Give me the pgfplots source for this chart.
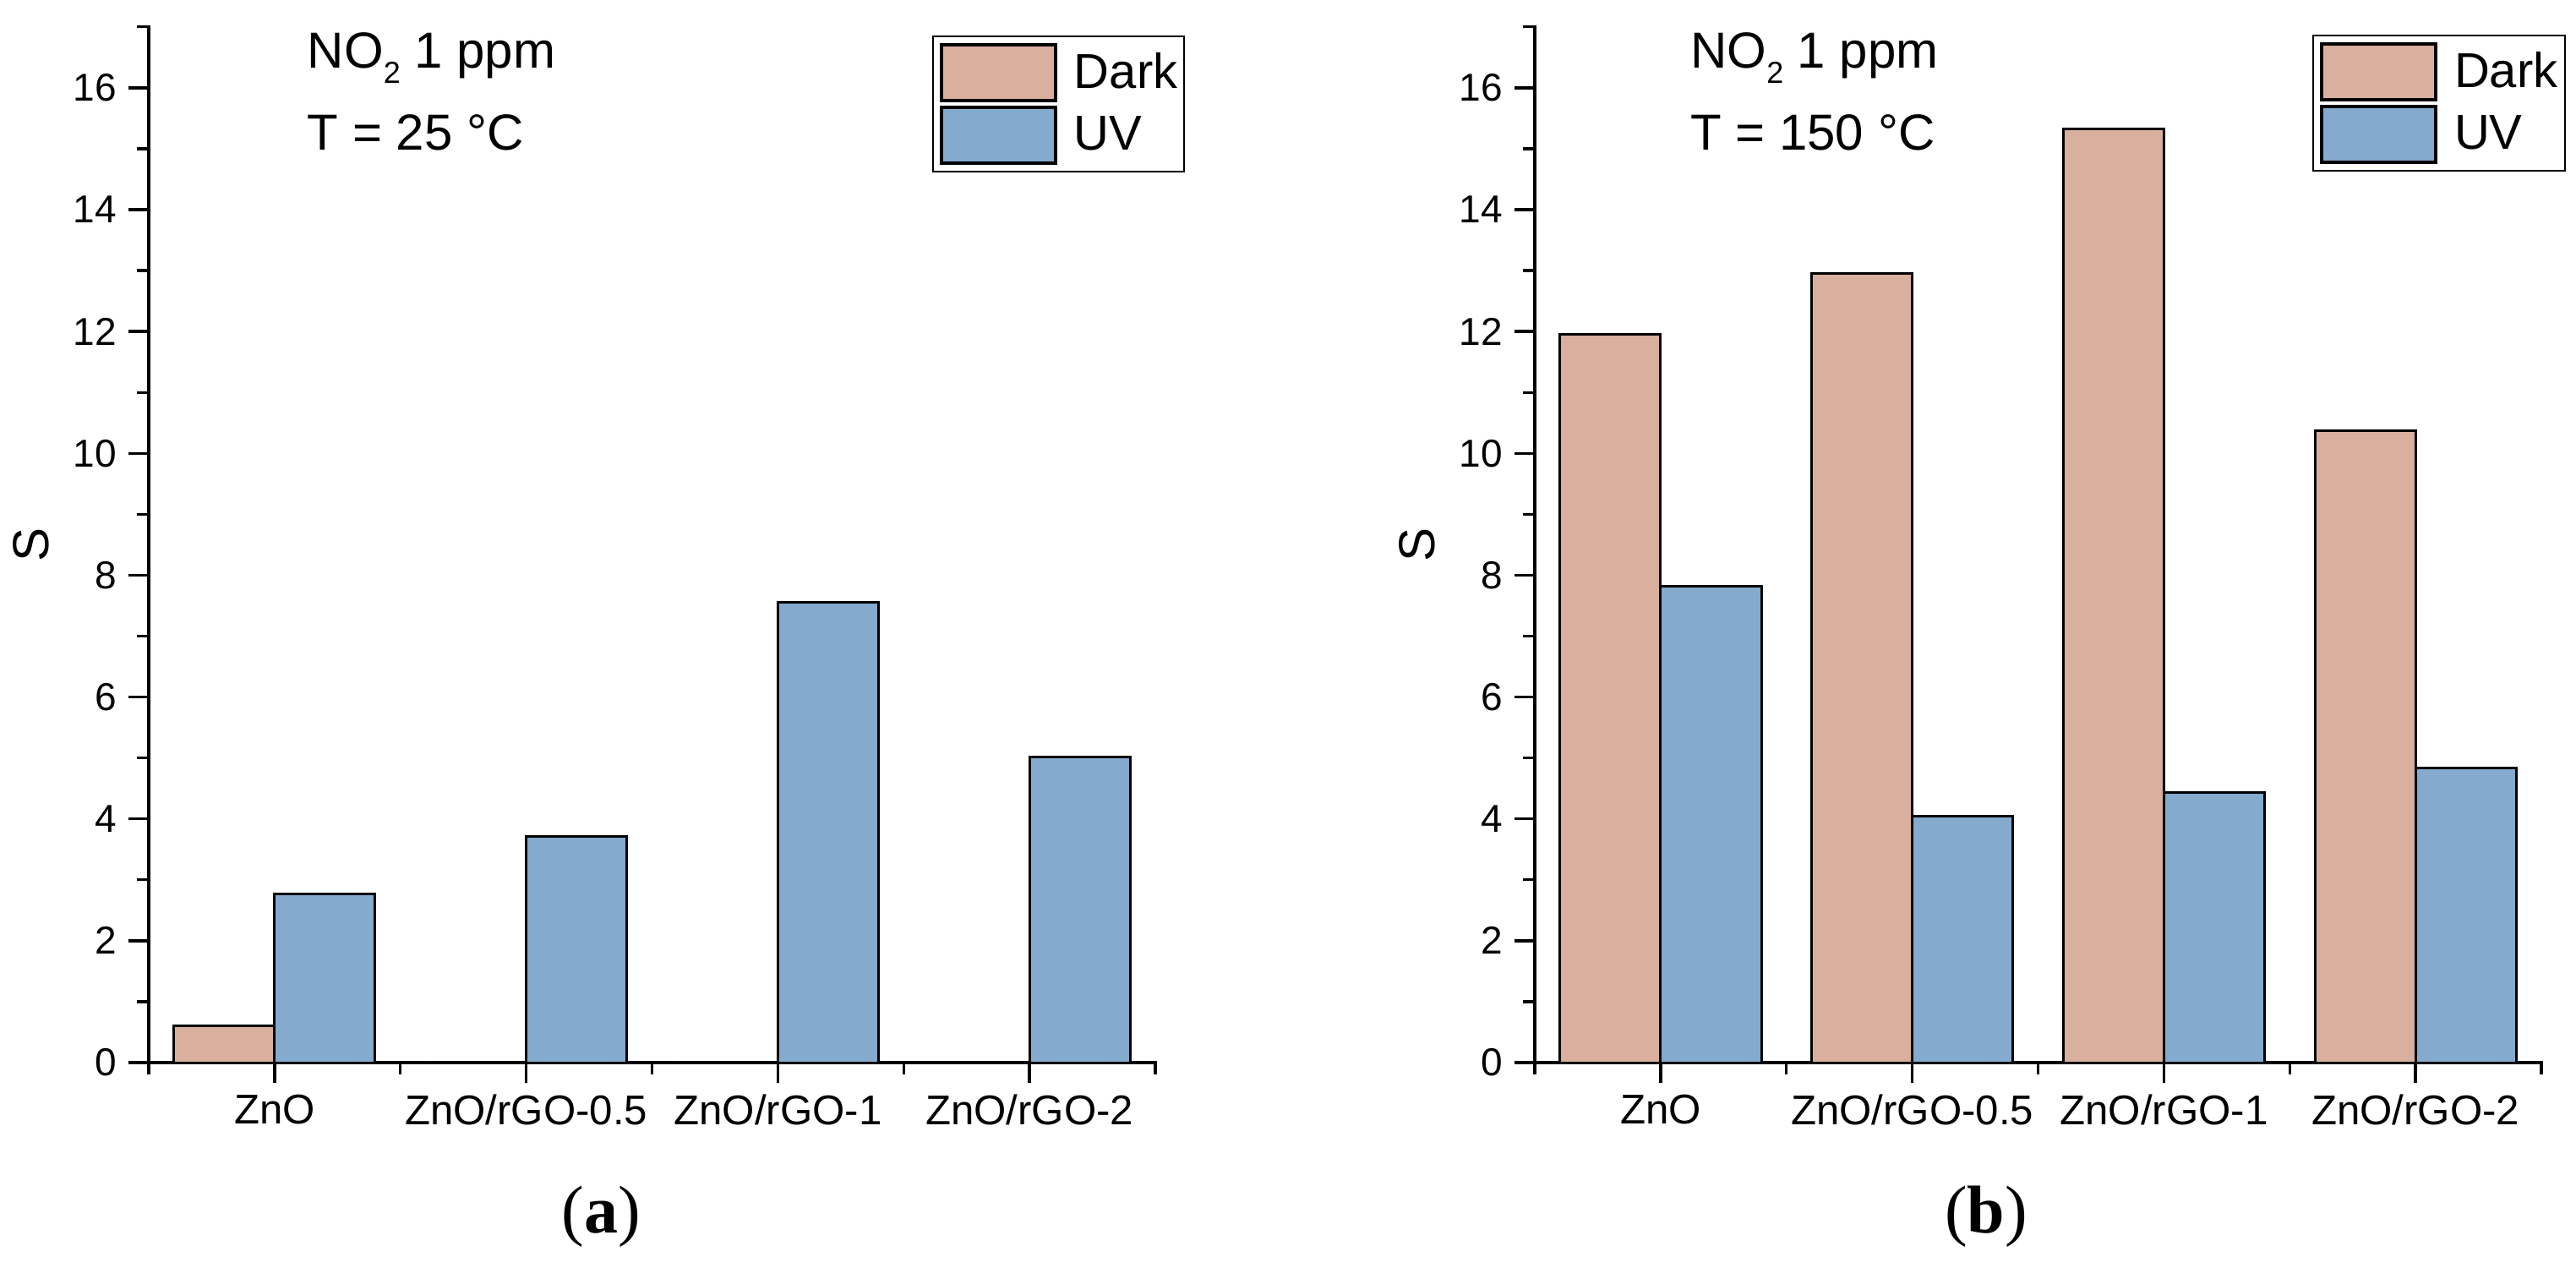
\documentclass[border=0pt]{standalone}
\usepackage{pgfplots}
\pgfplotsset{compat=1.18}
\usepackage{fontspec}
\setmainfont{Liberation Sans}
\newfontfamily\seriffont{Liberation Serif}
\definecolor{darkc}{RGB}{217,175,158}
\definecolor{uvc}{RGB}{132,170,205}
\newcommand{\subtwo}{\raisebox{-4.5pt}{\fontsize{9}{10}\selectfont 2}}

\pgfplotsset{
  panel/.style={
    scale only axis, width=297.75pt, height=306.3pt,
    anchor=south west,
    xmin=0.5, xmax=4.5, ymin=0, ymax=17, enlargelimits=false,
    axis x line*=bottom, axis y line*=left,
    axis line style={line width=0.9pt, line cap=rect},
    xtick={1,2,3,4},
    xticklabels={ZnO,ZnO/rGO-0.5,ZnO/rGO-1,ZnO/rGO-2},
    minor xtick={0.5,1.5,2.5,3.5,4.5},
    ytick={0,2,...,16}, minor ytick={1,3,...,17},
    tick align=outside,
    major tick length=6pt, minor tick length=3.5pt,
    every tick/.style={black, line width=0.85pt},
    /pgf/number format/assume math mode=true,
    yticklabel style={font=\fontsize{11.5}{13}\selectfont},
    xticklabel style={font=\fontsize{12.3}{14}\selectfont},
    ylabel={S},
    ylabel style={font=\fontsize{15}{17}\selectfont, at={(axis description cs:-0.1167,0.5)}, anchor=center},
    legend style={anchor=north west, draw=black, line width=0.5pt,
      inner xsep=2pt, inner ysep=2pt, font=\fontsize{14.5}{16}\selectfont,
      row sep=1pt, column sep=5pt, nodes={inner sep=0pt}},
    legend cell align=left,
    legend image code/.code={\draw[##1, line width=1pt] (0pt,-8.25pt) rectangle (33.75pt,8.25pt);},
  },
  darkbar/.style={ybar, bar width=0.4, bar shift=-0.2, fill=darkc, draw=black, line width=0.75pt},
  uvbar/.style={ybar, bar width=0.4, bar shift=0.2, fill=uvc, draw=black, line width=0.75pt},
}

\begin{document}
\begin{tikzpicture}
\useasboundingbox (0,0) rectangle (762pt,374.75pt);

% (a) T = 25 C
\begin{axis}[panel, at={(44pt,60.5pt)},
  legend style={at={(axis description cs:0.7783,0.9916)}}]
\addplot[darkbar] coordinates {(1,0.6) (2,0) (3,0) (4,0)};
\addlegendentry{Dark}
\addplot[uvbar] coordinates {(1,2.77) (2,3.71) (3,7.55) (4,5.02)};
\addlegendentry{UV}
\node[anchor=base west, inner sep=0pt, font=\fontsize{15}{17}\selectfont] at (axis description cs:0.157,0.9606) {NO\subtwo{} 1 ppm};
\node[anchor=base west, inner sep=0pt, font=\fontsize{15}{17}\selectfont] at (axis description cs:0.157,0.8814) {T = 25 °C};
\end{axis}

% (b) T = 150 C
\begin{axis}[panel, at={(454pt,60.5pt)},
  legend style={at={(axis description cs:0.7725,0.9924)}}]
\addplot[darkbar] coordinates {(1,11.95) (2,12.95) (3,15.32) (4,10.37)};
\addlegendentry{Dark}
\addplot[uvbar] coordinates {(1,7.82) (2,4.04) (3,4.44) (4,4.83)};
\addlegendentry{UV}
\node[anchor=base west, inner sep=0pt, font=\fontsize{15}{17}\selectfont] at (axis description cs:0.154,0.9606) {NO\subtwo{} 1 ppm};
\node[anchor=base west, inner sep=0pt, font=\fontsize{15}{17}\selectfont] at (axis description cs:0.154,0.8814) {T = 150 °C};
\end{axis}

\node[anchor=base, inner sep=0pt, font=\seriffont\fontsize{20}{22}\selectfont] at (177.75pt,10.25pt) {(\textbf{a})};
\node[anchor=base, inner sep=0pt, font=\seriffont\fontsize{20}{22}\selectfont] at (587.5pt,10.25pt) {(\textbf{b})};
\end{tikzpicture}
\end{document}
